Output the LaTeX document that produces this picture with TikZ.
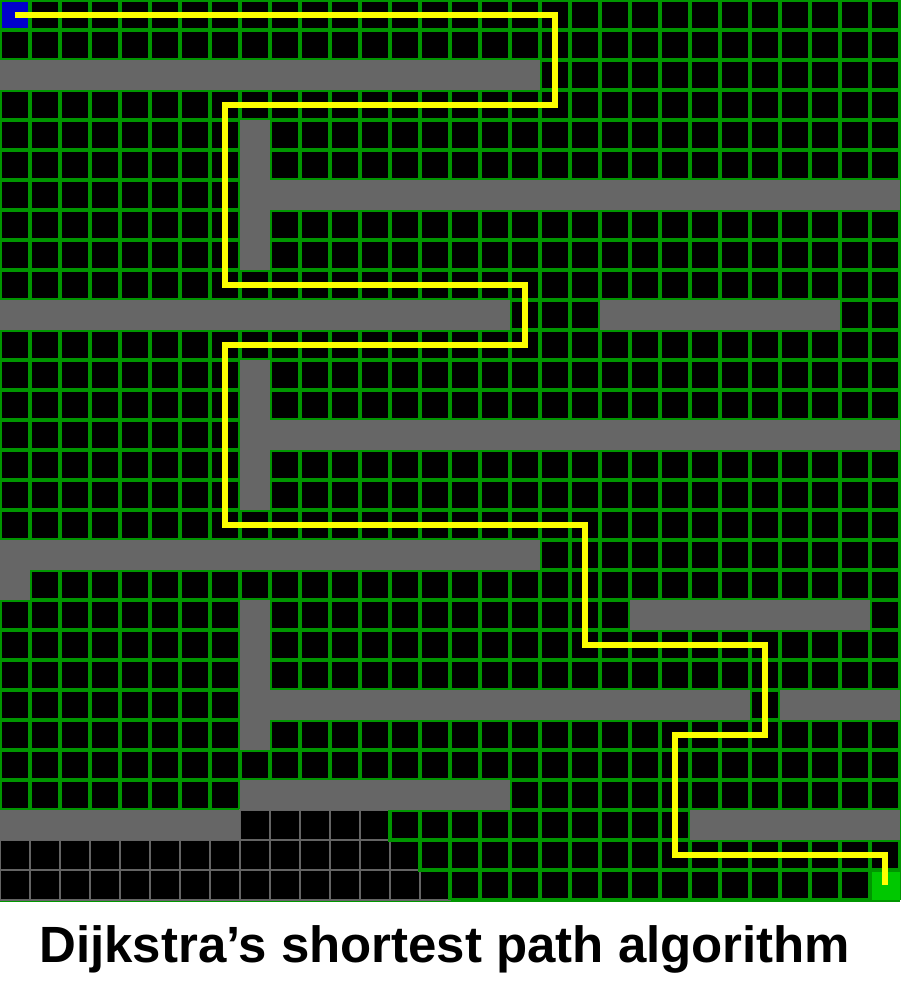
\documentclass[tikz,border=0pt]{standalone}
\usepackage{fontspec}
\setmainfont{Liberation Sans}
\usepackage{tikz}
\usepackage{xcolor}
\definecolor{visitgreen}{RGB}{0,150,0}
\definecolor{wallgray}{RGB}{102,102,102}
\definecolor{opengray}{RGB}{100,100,100}
\definecolor{startblue}{RGB}{0,0,204}
\definecolor{goalgreen}{RGB}{0,200,0}
\definecolor{pathyellow}{RGB}{255,255,0}
\tikzset{
  gridline/.style={line width=2pt,color=visitgreen},
  opencell/.style={fill=black,draw=opengray,line width=0.6pt},
  wall/.style={fill=wallgray},
  route/.style={line width=2.9pt,color=pathyellow,line join=miter}
}
\begin{document}
\begin{tikzpicture}[x=0.6cm,y=-0.6cm]
\useasboundingbox[fill=white] (0,0) rectangle (30,33.3333);
\fill[black] (0,0) rectangle (30,30);
\foreach \i in {0,...,30} {
  \draw[gridline] (\i,0) -- (\i,30);
  \draw[gridline] (0,\i) -- (30,\i);
}
\foreach \c in {8,...,12} \draw[opencell] (\c,27) rectangle ++(1,1);
\foreach \c in {0,...,13} \draw[opencell] (\c,28) rectangle ++(1,1);
\foreach \c in {0,...,14} \draw[opencell] (\c,29) rectangle ++(1,1);
\draw[gridline] (13,27) -- (13,28) -- (14,28) -- (14,29) -- (15,29) -- (15,30);
\fill[wall] (0,2) rectangle (18,3);
\fill[wall] (8,4) rectangle (9,9);
\fill[wall] (9,6) rectangle (30,7);
\fill[wall] (0,10) rectangle (17,11);
\fill[wall] (20,10) rectangle (28,11);
\fill[wall] (8,12) rectangle (9,17);
\fill[wall] (9,14) rectangle (30,15);
\fill[wall] (0,18) rectangle (18,19);
\fill[wall] (0,19) rectangle (1,20);
\fill[wall] (21,20) rectangle (29,21);
\fill[wall] (8,20) rectangle (9,25);
\fill[wall] (9,23) rectangle (25,24);
\fill[wall] (26,23) rectangle (30,24);
\fill[wall] (8,26) rectangle (17,27);
\fill[wall] (0,27) rectangle (8,28);
\fill[wall] (23,27) rectangle (30,28);
\fill[startblue] (0.06,0.06) rectangle (0.94,0.94);
\fill[goalgreen] (29.06,29.06) rectangle (30,30);
\coordinate (start) at (0.5,0.5);
\coordinate (goal) at (29.5,29.5);
\draw[route] (start) -- (18.5,0.5) -- (18.5,3.5) -- (7.5,3.5) -- (7.5,9.5)
  -- (17.5,9.5) -- (17.5,11.5) -- (7.5,11.5) -- (7.5,17.5) -- (19.5,17.5)
  -- (19.5,21.5) -- (25.5,21.5) -- (25.5,24.5) -- (22.5,24.5) -- (22.5,28.5)
  -- (29.5,28.5) -- (goal);
\node[anchor=base,font=\fontsize{29}{33}\selectfont\bfseries,inner sep=0pt] (title) at (14.83,32.07) {Dijkstra’s shortest path algorithm};
\end{tikzpicture}
\end{document}
